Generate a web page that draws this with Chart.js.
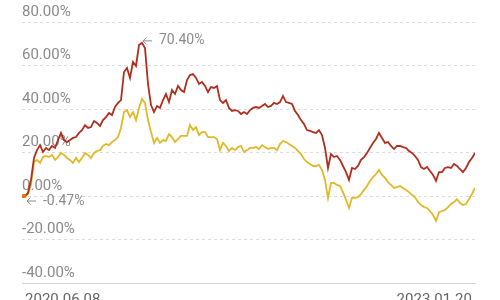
<!DOCTYPE html>
<html>
<head>
<meta charset="utf-8">
<script src="https://cdn.jsdelivr.net/npm/chart.js@4.4.1/dist/chart.umd.min.js"></script>
<style>
html,body{margin:0;padding:0;background:#fff;}
#wrap{width:500px;height:300px;position:relative;}
</style>
</head>
<body>
<div id="wrap"><canvas id="c" width="500" height="300"></canvas></div>
<script>
// x-axis tick labels (first and last trading day)
const tickLabels = ['2020.06.08', '2023.01.20'];
// y-axis range / ticks (percent)
const yTicks = [-40, -20, 0, 20, 40, 60, 80];

// red series: cumulative return (%)
const redSeries = [
  -0.47, 0.0, 1.4, 7.4, 17.5, 21.1, 23.4, 20.2, 22.1, 21.1,
  23.0, 22.1, 25.7, 29.0, 25.7, 24.8, 25.7, 26.7, 27.1, 29.0,
  30.3, 32.6, 31.3, 31.7, 34.5, 33.6, 32.2, 34.9, 36.3, 38.2,
  37.2, 40.9, 42.8, 44.1, 57.0, 58.9, 54.3, 61.6, 59.8, 69.4,
  70.4, 68.0, 51.5, 41.8, 38.6, 41.4, 40.5, 44.1, 46.9, 43.2,
  48.7, 46.9, 50.6, 48.7, 47.8, 53.3, 55.6, 56.1, 54.3, 51.5,
  52.4, 50.6, 47.8, 50.1, 49.7, 50.6, 44.1, 42.8, 44.1, 40.5,
  39.1, 39.5, 39.1, 37.7, 38.6, 37.7, 39.5, 40.5, 40.9, 40.5,
  41.4, 42.3, 40.9, 41.4, 42.8, 42.3, 43.2, 46.0, 43.2, 42.8,
  42.3, 39.1, 37.2, 34.9, 33.1, 30.3, 29.9, 29.4, 29.0, 30.3,
  28.0, 22.1, 12.9, 19.3, 17.9, 18.4, 16.6, 13.8, 11.0, 7.4,
  12.9, 12.4, 13.8, 16.6, 17.9, 19.8, 22.1, 24.4, 26.2, 29.0,
  26.7, 24.4, 24.8, 23.0, 21.6, 23.0, 23.0, 22.5, 22.1, 20.7,
  19.8, 18.4, 16.6, 13.3, 12.4, 13.3, 11.5, 9.7, 6.9, 11.0,
  11.0, 12.9, 13.3, 12.9, 14.7, 13.8, 12.4, 11.0, 12.9, 15.6,
  17.5, 19.8
];

// yellow series: cumulative return (%)
const yellowSeries = [
  -0.47, -0.5, 0.9, 5.1, 15.6, 16.6, 15.2, 17.9, 18.4, 17.9,
  18.9, 16.6, 17.9, 19.8, 18.9, 17.5, 16.6, 15.2, 17.5, 15.6,
  17.5, 19.8, 18.9, 17.5, 19.8, 20.7, 21.1, 23.0, 23.9, 23.4,
  24.8, 25.7, 27.1, 31.3, 38.6, 39.5, 36.3, 38.6, 34.9, 40.5,
  44.6, 42.8, 34.9, 29.4, 24.4, 26.7, 24.4, 25.7, 25.3, 28.5,
  27.1, 24.8, 26.2, 27.6, 27.6, 27.6, 32.6, 30.3, 31.7, 28.0,
  29.4, 29.4, 27.1, 27.1, 27.1, 26.2, 21.1, 24.4, 23.0, 20.7,
  22.1, 21.1, 22.5, 23.0, 20.2, 21.1, 22.1, 22.1, 22.5, 21.6,
  23.4, 22.5, 21.6, 22.1, 22.1, 21.1, 23.9, 25.3, 24.8, 23.9,
  23.0, 22.1, 20.7, 19.3, 17.0, 15.6, 14.7, 13.8, 13.8, 14.3,
  12.0, 7.4, -0.9, 6.0, 6.0, 5.1, 4.6, 1.8, -1.8, -5.5,
  -0.9, -0.9, -0.5, 0.9, 2.8, 4.6, 6.9, 8.7, 10.1, 12.0,
  9.7, 8.3, 6.4, 5.1, 3.7, 4.1, 4.6, 3.7, 2.8, 1.8,
  0.5, -0.5, -2.8, -4.1, -5.1, -5.5, -6.9, -8.7, -11.5, -7.4,
  -6.9, -6.4, -5.1, -3.7, -2.8, -1.4, -3.2, -4.1, -3.7, -1.4,
  0.9, 3.7
];

const n = Math.min(redSeries.length, yellowSeries.length);
const idx = Array.from({length: n}, (_, i) => i);
const toPts = arr => idx.map(i => ({x: i, y: arr[i]}));

const FONT = 'Roboto, "DejaVu Sans", sans-serif';

const annotatePlugin = {
  id: 'annot',
  afterDatasetsDraw(chart) {
    const {ctx, scales: {x, y}} = chart;
    ctx.save();
    ctx.fillStyle = '#8c8c8c';
    ctx.strokeStyle = '#8c8c8c';
    ctx.textBaseline = 'middle';
    ctx.font = '14px ' + FONT;
    // max point
    let mi = 0;
    for (let i = 1; i < n; i++) if (redSeries[i] > redSeries[mi]) mi = i;
    const px = x.getPixelForValue(mi), py = y.getPixelForValue(redSeries[mi]);
    drawArrowLabel(ctx, px + 1, py - 2, redSeries[mi].toFixed(2) + '%');
    // start point
    const sx = x.getPixelForValue(0), sy = y.getPixelForValue(redSeries[0]);
    drawArrowLabel(ctx, sx + 5, sy + 4, redSeries[0].toFixed(2) + '%');
    // start marker
    ctx.fillStyle = '#e0731f';
    ctx.beginPath();
    ctx.arc(sx + 2, sy - 1, 2.2, 0, Math.PI * 2);
    ctx.fill();
    ctx.restore();
  }
};
function drawArrowLabel(ctx, ax, ay, txt) {
  ctx.lineWidth = 1;
  ctx.beginPath();
  ctx.moveTo(ax, ay); ctx.lineTo(ax + 9, ay);
  ctx.moveTo(ax, ay); ctx.lineTo(ax + 3.5, ay - 3.5);
  ctx.moveTo(ax, ay); ctx.lineTo(ax + 3.5, ay + 3.5);
  ctx.stroke();
  ctx.textAlign = 'left';
  ctx.fillText(txt, ax + 16, ay);
}

new Chart(document.getElementById('c'), {
  type: 'line',
  data: {
    datasets: [
      {data: toPts(redSeries), borderColor: '#b02e1e', borderWidth: 1.8, pointRadius: 0, tension: 0, order: 1},
      {data: toPts(yellowSeries), borderColor: '#e0b928', borderWidth: 1.8, pointRadius: 0, tension: 0, order: 2}
    ]
  },
  options: {
    responsive: false,
    animation: false,
    events: [],
    layout: {padding: {left: 22, right: 25, top: 22, bottom: 0}},
    plugins: {legend: {display: false}, tooltip: {enabled: false}},
    scales: {
      x: {
        type: 'linear',
        min: 0,
        max: n - 1,
        grid: {display: false, drawTicks: false},
        border: {display: true, color: '#d4d4d4', width: 1},
        afterBuildTicks: s => { s.ticks = [{value: 0}, {value: n - 1}]; },
        afterFit: s => { s.height = 17; },
        ticks: {
          autoSkip: false,
          maxRotation: 0,
          align: 'inner',
          padding: 8,
          color: '#666',
          font: {family: FONT, size: 15},
          callback: (v) => v === 0 ? '\u2009' + tickLabels[0] : tickLabels[1] + '\u2009'
        }
      },
      y: {
        min: yTicks[0],
        max: yTicks[yTicks.length - 1],
        afterBuildTicks: s => { s.ticks = yTicks.map(v => ({value: v})); },
        grid: {color: '#dcdcdc', drawTicks: false, lineWidth: 1},
        border: {display: false, dash: [3, 3]},
        ticks: {
          mirror: true,
          padding: 0,
          labelOffset: -10,
          color: '#8a8a8a',
          font: {family: FONT, size: 15},
          callback: v => v.toFixed(2) + '%'
        }
      }
    }
  },
  plugins: [annotatePlugin]
});
</script>
</body>
</html>
